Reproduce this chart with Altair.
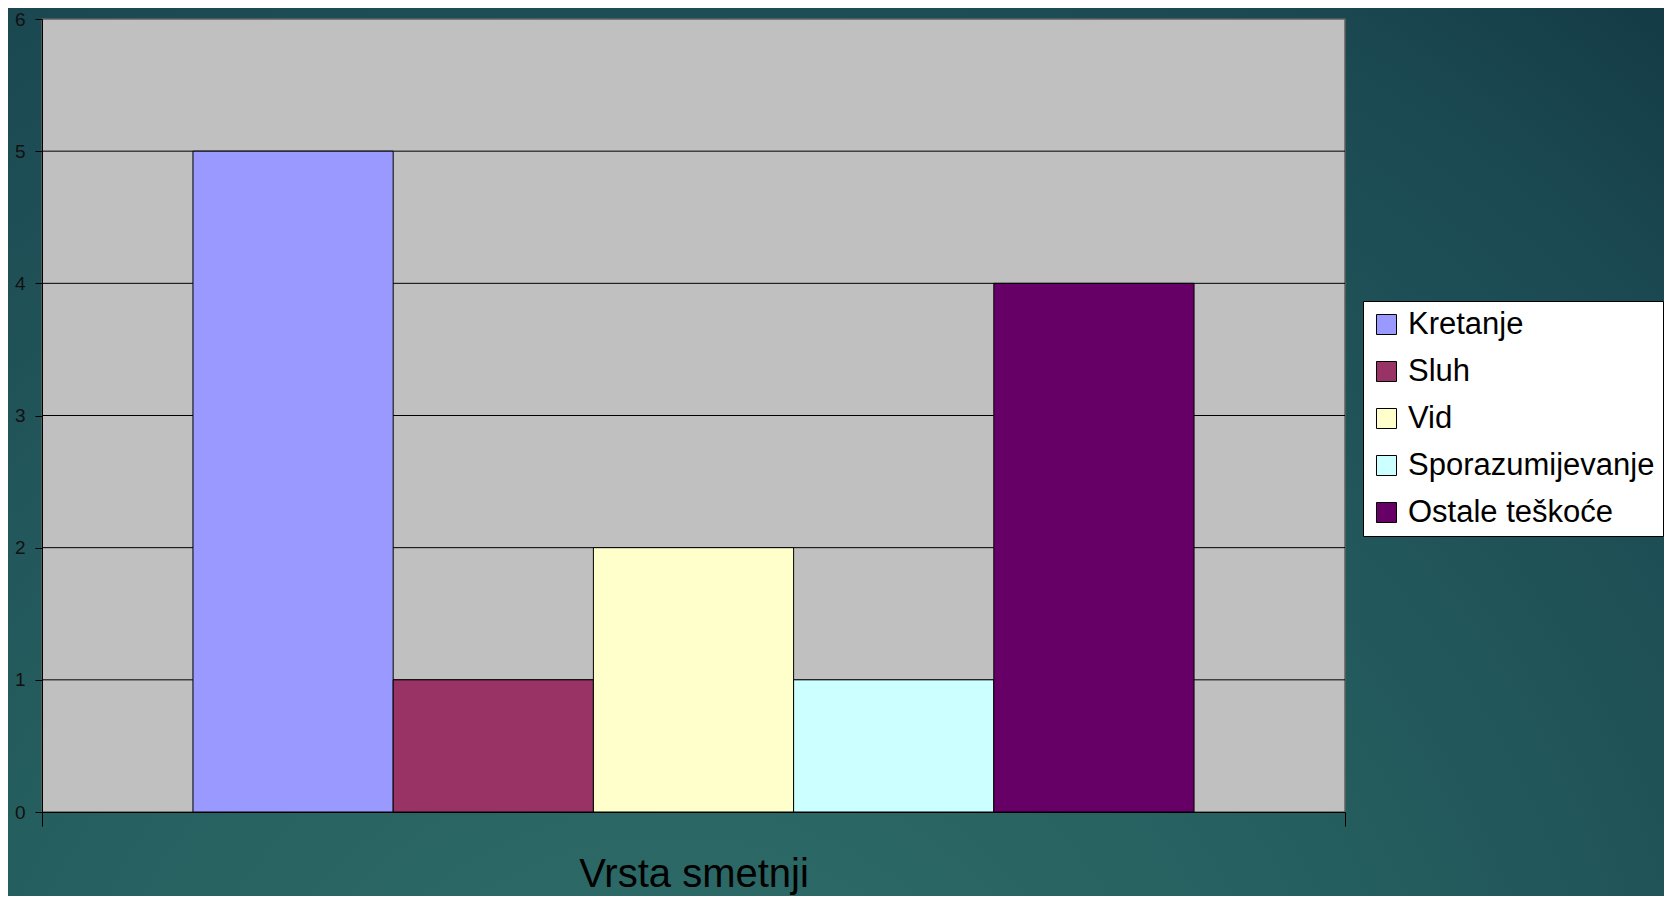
import altair as alt
import pandas as pd

# ---- data ----
categories = ["Kretanje", "Sluh", "Vid", "Sporazumijevanje", "Ostale teškoće"]
values = [5, 1, 2, 1, 4]
colors = ["#9999FF", "#993366", "#FFFFCC", "#CCFFFF", "#660066"]
y_ticks = [0, 1, 2, 3, 4, 5, 6]
grid_values = [1, 2, 3, 4, 5]
x_title = "Vrsta smetnji"

FONT = "Liberation Sans"
W, H = 1303, 793
PAD = {"left": 34, "top": 11, "right": 319, "bottom": 84}

df = pd.DataFrame({"grupa": ["g"] * len(categories),
                   "kategorija": categories,
                   "vrijednost": values})
grid_df = pd.DataFrame({"vrijednost": grid_values})
one = pd.DataFrame({"a": [0]})

yscale = alt.Scale(domain=[0, 6], nice=False)
yaxis = alt.Axis(
    values=y_ticks, tickSize=7, tickColor="#000000",
    domainColor="#000000", labelFontSize=19, labelFont=FONT,
    labelColor="#111111", labelPadding=10, grid=False, title=None,
    zindex=1,
)

background = alt.Chart(one).mark_rect(
    fill={
        "gradient": "radial",
        "x1": 0.4, "y1": 0.95, "r1": 0,
        "x2": 0.4, "y2": 0.95, "r2": 1.0,
        "stops": [
            {"offset": 0.0, "color": "#31706a"},
            {"offset": 0.45, "color": "#255e5f"},
            {"offset": 0.8, "color": "#1b4952"},
            {"offset": 1.0, "color": "#10343f"},
        ],
    }
).encode(
    x=alt.value(-PAD["left"]), x2=alt.value(W + PAD["right"]),
    y=alt.value(-PAD["top"]), y2=alt.value(H + PAD["bottom"]),
)

plot_bg = alt.Chart(one).mark_rect(
    fill="#c0c0c0", stroke="#606060", strokeWidth=1.5
).encode(
    x=alt.value(0), x2=alt.value(W), y=alt.value(0), y2=alt.value(H)
)

grid = alt.Chart(grid_df).mark_rule(color="#000000", strokeWidth=1).encode(
    y=alt.Y("vrijednost:Q", scale=yscale, axis=yaxis)
)

bars = alt.Chart(df).mark_bar(stroke="#000000", strokeWidth=1).encode(
    x=alt.X(
        "grupa:N",
        scale=alt.Scale(paddingInner=0, paddingOuter=0),
        axis=alt.Axis(
            labels=False, ticks=True, tickSize=14, tickColor="#000000",
            tickBand="extent", domainColor="#000000", domainWidth=1,
            title=x_title, titleFontSize=40, titleFont=FONT,
            titleFontWeight="normal", titleColor="#000000",
            titleY=74, titleBaseline="alphabetic", grid=False, zindex=1,
        ),
    ),
    xOffset=alt.XOffset(
        "kategorija:N", sort=categories,
        scale=alt.Scale(paddingInner=0, paddingOuter=0.754),
    ),
    y=alt.Y("vrijednost:Q", scale=yscale, axis=yaxis),
    color=alt.Color(
        "kategorija:N", sort=categories,
        scale=alt.Scale(domain=categories, range=colors),
        legend=alt.Legend(
            title=None, orient="none", legendX=1321, legendY=282,
            padding=8, fillColor="#ffffff", strokeColor="#000000",
            labelFontSize=31, labelFont=FONT, labelColor="#000000",
            symbolType="square", symbolSize=400, symbolStrokeColor="#000000",
            symbolStrokeWidth=1, symbolOpacity=1, rowPadding=15,
            labelOffset=6, labelLimit=400,
        ),
    ),
)

chart = alt.layer(background, plot_bg, grid, bars).properties(
    width=W, height=H,
    autosize=alt.AutoSizeParams(type="none"),
    padding=PAD,
    background="#1e4f55",
).configure_view(stroke=None)

chart.save("out.html", embed_options={"renderer": "svg", "actions": False})
